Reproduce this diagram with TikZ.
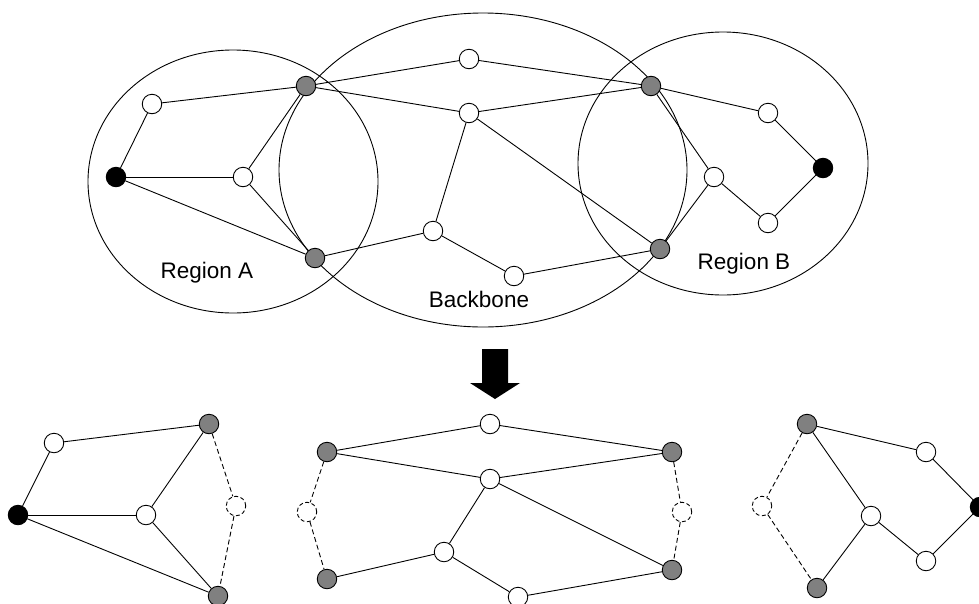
\documentclass[tikz,border=0pt]{standalone}
\usepackage{fontspec}
\setmainfont{Liberation Sans}
\definecolor{nodegray}{RGB}{128,128,128}
\begin{document}
\begin{tikzpicture}[x=1pt,y=-1pt,line width=0.9pt,
  nd/.style={circle,draw,line width=0.9pt,minimum size=19.5pt,inner sep=0pt},
  wn/.style={nd,fill=white},
  gn/.style={nd,fill=nodegray},
  bn/.style={nd,fill=black},
  dn/.style={nd,fill=white,dash pattern=on 4pt off 2.5pt},
  edge/.style={line width=0.9pt},
  dedge/.style={line width=0.9pt,dash pattern=on 5pt off 3pt},
  region/.style={line width=0.9pt},
  lbl/.style={font=\fontsize{22.5}{26}\selectfont,anchor=base,inner sep=0pt}]
\useasboundingbox (0,0) rectangle (979,603);
\clip (0,0) rectangle (979,603);
% regions
\draw[region] (233,181.5) ellipse [x radius=145pt, y radius=131.5pt];
\draw[region] (483,170) ellipse [x radius=204pt, y radius=157pt];
\draw[region] (723,163.5) ellipse [x radius=145pt, y radius=131.5pt];
% top nodes
\node[bn] (A1) at (116,177) {};
\node[wn] (A2) at (152,104) {};
\node[wn] (A3) at (243,177) {};
\node[gn] (G1) at (306,86) {};
\node[gn] (G2) at (315,258) {};
\node[wn] (B1) at (469,59) {};
\node[wn] (B2) at (469,113) {};
\node[wn] (B3) at (433,231) {};
\node[wn] (B4) at (514,276) {};
\node[gn] (G3) at (651,86) {};
\node[gn] (G4) at (660,249) {};
\node[wn] (C1) at (768,113) {};
\node[bn] (C2) at (823,168) {};
\node[wn] (C3) at (714,177) {};
\node[wn] (C4) at (768,223) {};
% top edges
\draw[edge] (A1) -- (A2);
\draw[edge] (A2) -- (G1);
\draw[edge] (A1) -- (A3);
\draw[edge] (A3) -- (G1);
\draw[edge] (A3) -- (G2);
\draw[edge] (A1) -- (G2);
\draw[edge] (G1) -- (B1);
\draw[edge] (G1) -- (B2);
\draw[edge] (B1) -- (G3);
\draw[edge] (B2) -- (G3);
\draw[edge] (B2) -- (B3);
\draw[edge] (B2) -- (G4);
\draw[edge] (G2) -- (B3);
\draw[edge] (B3) -- (B4);
\draw[edge] (B4) -- (G4);
\draw[edge] (G3) -- (C1);
\draw[edge] (C1) -- (C2);
\draw[edge] (C2) -- (C4);
\draw[edge] (C4) -- (C3);
\draw[edge] (C3) -- (G3);
\draw[edge] (C3) -- (G4);
% labels
\node[lbl] (la) at (207,278) {Region A};
\node[lbl] (lb) at (744,269) {Region B};
\node[lbl] (lc) at (479,307) {Backbone};
% arrow
\fill[black] (482,349) -- (508,349) -- (508,383) -- (520,383) -- (495,399) -- (470,383) -- (482,383) -- cycle;
% bottom left
\node[bn] (L1) at (18,515) {};
\node[wn] (L2) at (54,443) {};
\node[wn] (L3) at (146,515) {};
\node[gn] (LG1) at (209,424) {};
\node[gn] (LG2) at (218,596) {};
\node[dn] (LD) at (236,506) {};
\draw[edge] (L1) -- (L2);
\draw[edge] (L2) -- (LG1);
\draw[edge] (L1) -- (L3);
\draw[edge] (L3) -- (LG1);
\draw[edge] (L3) -- (LG2);
\draw[edge] (L1) -- (LG2);
\draw[dedge] (LG1) -- (LD);
\draw[dedge] (LD) -- (LG2);
% bottom middle
\node[wn] (M1) at (490,424) {};
\node[gn] (MG1) at (327,452) {};
\node[wn] (M2) at (490,479) {};
\node[gn] (MG2) at (672,452) {};
\node[dn] (MD1) at (307,512) {};
\node[dn] (MD2) at (682,512) {};
\node[wn] (M3) at (444,552) {};
\node[gn] (MG3) at (327,579) {};
\node[gn] (MG4) at (672,570) {};
\node[wn] (M4) at (518,597) {};
\draw[edge] (MG1) -- (M1);
\draw[edge] (M1) -- (MG2);
\draw[edge] (MG1) -- (M2);
\draw[edge] (M2) -- (MG2);
\draw[edge] (M2) -- (M3);
\draw[edge] (M2) -- (MG4);
\draw[edge] (MG3) -- (M3);
\draw[edge] (M3) -- (M4);
\draw[edge] (M4) -- (MG4);
\draw[dedge] (MG1) -- (MD1);
\draw[dedge] (MD1) -- (MG3);
\draw[dedge] (MG2) -- (MD2);
\draw[dedge] (MD2) -- (MG4);
% bottom right
\node[gn] (RG1) at (807,424) {};
\node[wn] (R1) at (926,452) {};
\node[bn] (R2) at (980,507) {};
\node[dn] (RD) at (762,506) {};
\node[wn] (R3) at (871,516) {};
\node[wn] (R4) at (926,561) {};
\node[gn] (RG2) at (817,588) {};
\draw[edge] (RG1) -- (R1);
\draw[edge] (R1) -- (R2);
\draw[edge] (R2) -- (R4);
\draw[edge] (R4) -- (R3);
\draw[edge] (R3) -- (RG1);
\draw[edge] (R3) -- (RG2);
\draw[dedge] (RG1) -- (RD);
\draw[dedge] (RD) -- (RG2);
\end{tikzpicture}
\end{document}
